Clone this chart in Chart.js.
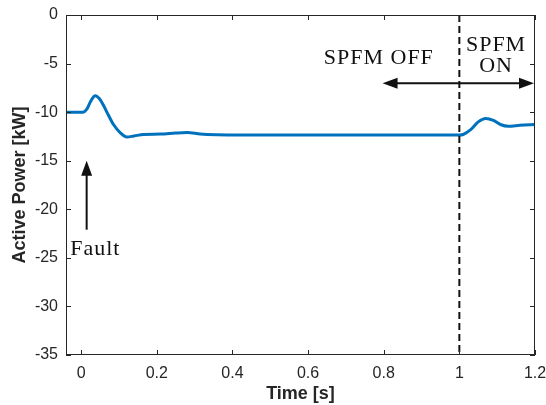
<!DOCTYPE html>
<html>
<head>
<meta charset="utf-8">
<script src="https://cdn.jsdelivr.net/npm/chart.js@4/dist/chart.umd.min.js"></script>
<style>
  html, body { margin: 0; padding: 0; background: #fff; }
  #wrap { width: 546px; height: 405px; }
</style>
</head>
<body>
<div id="wrap"><canvas id="chart" width="546" height="405"></canvas></div>
<script>
// time axis [s] and active power [kW]
const timeS = [-0.04, 0.0, 0.005, 0.015, 0.025, 0.037, 0.048, 0.059, 0.072, 0.086, 0.103, 0.121, 0.14, 0.165, 0.21, 0.25, 0.28, 0.315, 0.36, 0.42, 0.5, 0.6, 0.7, 0.8, 0.9, 1.0, 1.01, 1.03, 1.05, 1.07, 1.09, 1.11, 1.13, 1.16, 1.2];
const powerKW = [-10, -10, -10, -9.7, -8.9, -8.3, -8.6, -9.3, -10.3, -11.3, -12.1, -12.56, -12.45, -12.3, -12.26, -12.15, -12.1, -12.25, -12.33, -12.36, -12.36, -12.36, -12.36, -12.36, -12.36, -12.36, -12.3, -11.8, -11.0, -10.65, -10.85, -11.3, -11.45, -11.35, -11.27];
const xTicks = [0, 0.2, 0.4, 0.6, 0.8, 1, 1.2];
const yTicks = [0, -5, -10, -15, -20, -25, -30, -35];
const switchTime = 1;

const axisColor = '#262626';
const sans = '"Liberation Sans", Arial, sans-serif';
const serif = '"Liberation Serif", "Times New Roman", serif';

const decor = {
  id: 'decor',
  afterDatasetsDraw(chart) {
    const { ctx, chartArea: a, scales: { x, y } } = chart;
    ctx.save();
    // dashed switching line
    ctx.strokeStyle = '#111';
    ctx.lineWidth = 2;
    ctx.setLineDash([7, 4]);
    const xs = x.getPixelForValue(switchTime);
    ctx.beginPath(); ctx.moveTo(xs, a.top); ctx.lineTo(xs, a.bottom); ctx.stroke();
    ctx.setLineDash([]);

    // box and inward ticks
    ctx.strokeStyle = axisColor;
    ctx.lineWidth = 1;
    ctx.strokeRect(a.left + 0.5, a.top + 0.5, a.right - a.left - 1, a.bottom - a.top - 1);
    const tl = 5;
    ctx.beginPath();
    xTicks.forEach(v => {
      const px = Math.round(x.getPixelForValue(v)) + 0.5;
      ctx.moveTo(px, a.bottom); ctx.lineTo(px, a.bottom - tl);
      ctx.moveTo(px, a.top); ctx.lineTo(px, a.top + tl);
    });
    yTicks.forEach(v => {
      const py = Math.round(y.getPixelForValue(v)) + 0.5;
      ctx.moveTo(a.left, py); ctx.lineTo(a.left + tl, py);
      ctx.moveTo(a.right, py); ctx.lineTo(a.right - tl, py);
    });
    ctx.stroke();

    // annotations
    ctx.fillStyle = '#111';
    ctx.strokeStyle = '#111';
    ctx.font = '22px ' + serif;
    if ('letterSpacing' in ctx) ctx.letterSpacing = '1px';
    ctx.textAlign = 'center';
    ctx.textBaseline = 'middle';
    ctx.fillText('SPFM OFF', x.getPixelForValue(0.787), y.getPixelForValue(-4.43));
    ctx.fillText('SPFM', x.getPixelForValue(1.097), y.getPixelForValue(-3.1));
    ctx.fillText('ON', x.getPixelForValue(1.097), y.getPixelForValue(-5.25));
    ctx.textAlign = 'left';
    ctx.fillText('Fault', x.getPixelForValue(-0.029), y.getPixelForValue(-24.1));
    if ('letterSpacing' in ctx) ctx.letterSpacing = '0px';

    const head = (tx, ty, dx, dy) => {
      // filled arrowhead pointing along (dx, dy)
      const L = 15, W = 5.5;
      const bx = tx - dx * L, by = ty - dy * L;
      ctx.beginPath();
      ctx.moveTo(tx, ty);
      ctx.lineTo(bx - dy * W, by + dx * W);
      ctx.lineTo(bx + dy * W, by - dx * W);
      ctx.closePath();
      ctx.fill();
    };
    ctx.lineWidth = 2;
    // double arrow
    const ay = y.getPixelForValue(-7.03);
    const ax1 = x.getPixelForValue(0.797), ax2 = x.getPixelForValue(1.2) - 1;
    ctx.beginPath(); ctx.moveTo(ax1 + 8, ay); ctx.lineTo(ax2 - 8, ay); ctx.stroke();
    head(ax1, ay, -1, 0);
    head(ax2, ay, 1, 0);
    // fault arrow
    const fx = x.getPixelForValue(0.0146);
    const fy1 = y.getPixelForValue(-22.1), fy2 = y.getPixelForValue(-15.0);
    ctx.beginPath(); ctx.moveTo(fx, fy1); ctx.lineTo(fx, fy2 + 8); ctx.stroke();
    head(fx, fy2, 0, -1);
    ctx.restore();
  }
};

new Chart(document.getElementById('chart').getContext('2d'), {
  type: 'line',
  data: {
    datasets: [{
      data: timeS.map((t, i) => ({ x: t, y: powerKW[i] })),
      borderColor: '#0072BD',
      borderWidth: 3,
      pointRadius: 0,
      cubicInterpolationMode: 'monotone',
      fill: false
    }]
  },
  options: {
    responsive: false,
    animation: false,
    layout: { padding: { top: 15, right: 11, left: 0, bottom: 0 } },
    plugins: { legend: { display: false }, tooltip: { enabled: false } },
    scales: {
      x: {
        type: 'linear',
        min: -0.04,
        max: 1.2,
        afterBuildTicks: s => { s.ticks = xTicks.map(v => ({ value: v })); },
        afterFit: s => { s.height = 50; s.paddingLeft = 0; s.paddingRight = 0; },
        grid: { display: false, drawTicks: false },
        border: { display: false },
        ticks: {
          color: axisColor,
          padding: 9,
          maxRotation: 0,
          font: { family: sans, size: 16 },
          callback: v => String(v)
        },
        title: {
          display: true,
          text: 'Time [s]',
          color: axisColor,
          padding: { top: 0, bottom: 0 },
          font: { family: sans, size: 18, weight: 'bold' }
        }
      },
      y: {
        min: -35,
        max: 0,
        afterBuildTicks: s => { s.ticks = yTicks.map(v => ({ value: v })); },
        afterFit: s => { s.width = 66; s.paddingTop = 0; s.paddingBottom = 0; },
        grid: { display: false, drawTicks: false },
        border: { display: false },
        ticks: {
          color: axisColor,
          padding: 8,
          font: { family: sans, size: 16 },
          callback: v => String(v)
        },
        title: {
          display: true,
          text: 'Active Power [kW]',
          color: axisColor,
          padding: { top: 9, bottom: 0 },
          font: { family: sans, size: 18, weight: 'bold' }
        }
      }
    }
  },
  plugins: [decor]
});
</script>
</body>
</html>
